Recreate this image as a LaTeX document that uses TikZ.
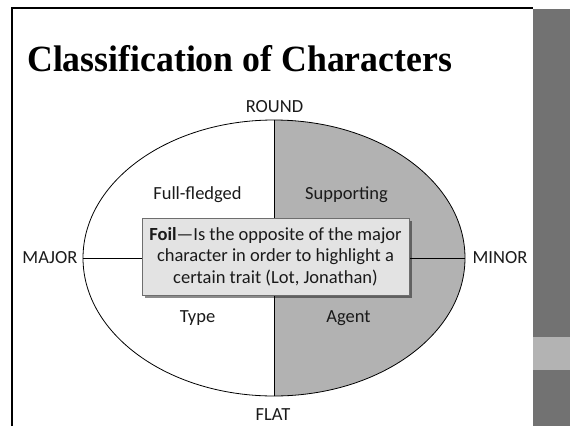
\documentclass[tikz,border=0pt]{standalone}
\usepackage{fontspec}
\setmainfont{Carlito}
\newfontfamily\titlefont{Liberation Serif}
\usetikzlibrary{shapes.geometric,shadows}
\definecolor{bardark}{HTML}{727272}
\definecolor{barlight}{HTML}{B3B3B3}
\definecolor{halfgray}{HTML}{B2B2B2}
\definecolor{boxfill}{HTML}{E3E3E3}
\definecolor{boxline}{HTML}{6E6E6E}
\definecolor{ink}{HTML}{1A1A1A}
\tikzset{
  frameline/.style={line width=2pt, black},
  axisline/.style={line width=0.8pt, black},
  lbl/.style={font=\fontsize{18.5}{21.5}\selectfont, text=ink, inner sep=0pt},
  foilbox/.style={draw=boxline, fill=boxfill, line width=0.8pt,
    minimum width=267pt, minimum height=77pt, align=center,
    font=\fontsize{18.5}{21.5}\selectfont, text=ink, inner sep=0pt,
    drop shadow={shadow xshift=2.5pt, shadow yshift=-2.5pt, fill=black, opacity=0.45}},
}
\begin{document}
\begin{tikzpicture}[x=1pt,y=-1pt]
  \useasboundingbox (0,0) rectangle (570,426);
  \fill[white] (0,0) rectangle (570,426);
  % side bar
  \fill[bardark] (533,9) rectangle (570,426);
  \fill[barlight] (533,337) rectangle (570,370);
  % slide frame
  \draw[frameline] (12,426) -- (12,8) -- (533,8);
  % title
  \node[anchor=base west, inner sep=0pt] (title) at (27,71)
    {\titlefont\bfseries\fontsize{37}{40}\selectfont\scalebox{0.966}[1]{Classification of Characters}};
  % shaded right half of the oval
  \begin{scope}
    \clip (274,0) rectangle (570,426);
    \fill[halfgray] (274,258) ellipse [x radius=191pt, y radius=138pt];
  \end{scope}
  \node[ellipse, draw, line width=0.8pt, minimum width=382pt, minimum height=276pt,
        inner sep=0pt] (oval) at (274,258) {};
  \draw[axisline] (oval.west) -- (oval.east);
  \draw[axisline] (oval.north) -- (oval.south);
  % axis ends
  \node[lbl] (round) at (274.5,107) {ROUND};
  \node[lbl] (flat) at (273,415) {FLAT};
  \node[lbl, anchor=east] (major) at ([xshift=-5pt]oval.west) {MAJOR};
  \node[lbl, anchor=west] (minor) at ([xshift=7pt]oval.east) {MINOR};
  % quadrant names
  \node[lbl] (full) at (197.5,195) {Full-fledged};
  \node[lbl] (supp) at (346.5,195) {Supporting};
  \node[lbl] (type) at (197.5,318) {Type};
  \node[lbl] (agent) at (348.5,318) {Agent};
  % callout
  \node[foilbox] (foil) at (275.5,256.5)
    {\textbf{Foil}---Is the opposite of the major\\character in order to highlight a\\certain trait (Lot, Jonathan)};
\end{tikzpicture}
\end{document}
